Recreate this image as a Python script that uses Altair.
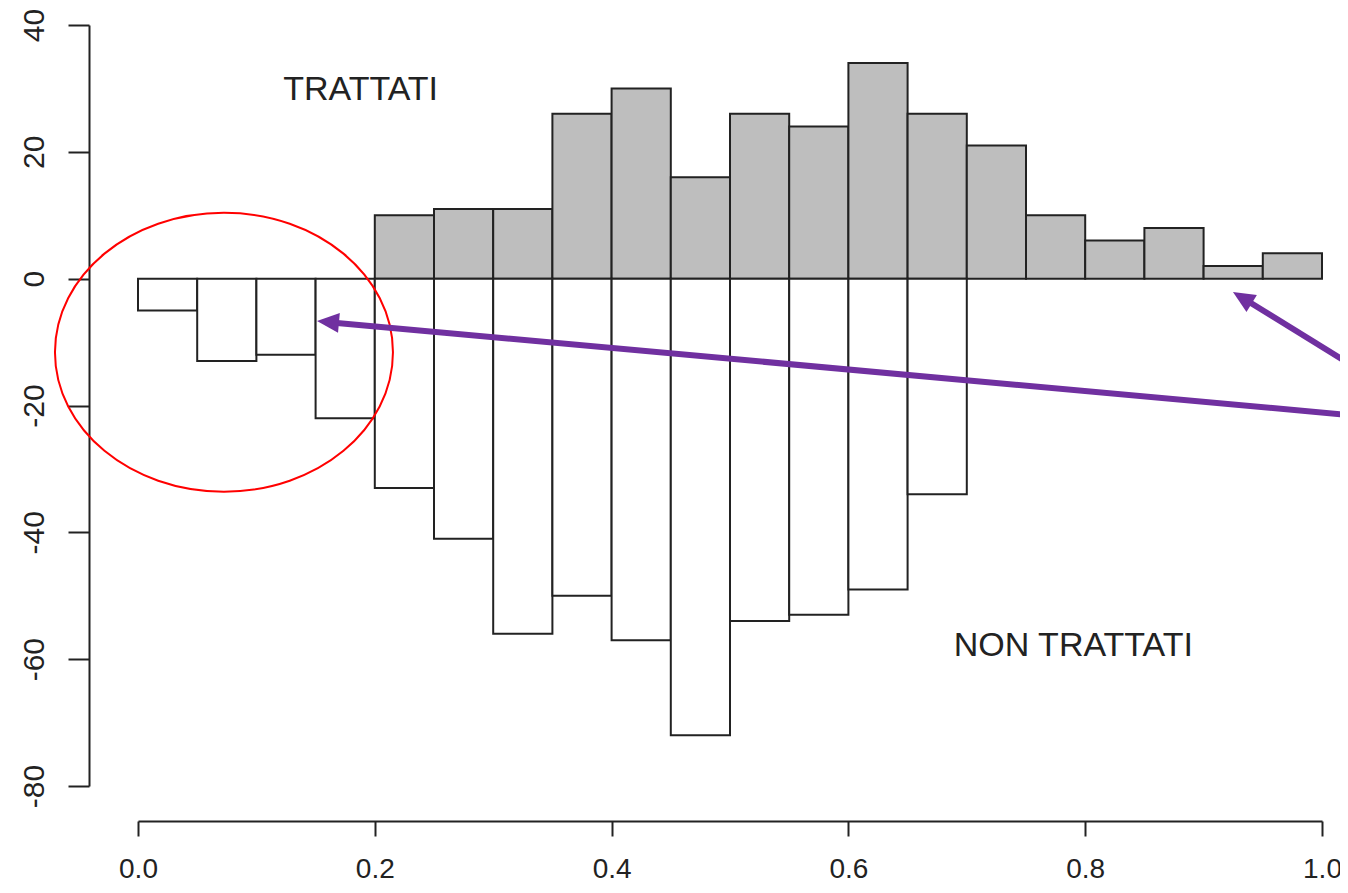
import altair as alt
import pandas as pd

# ---- data ----
bin_width = 0.05
treated_start = [0.20, 0.25, 0.30, 0.35, 0.40, 0.45, 0.50, 0.55, 0.60, 0.65, 0.70, 0.75, 0.80, 0.85, 0.90, 0.95]
treated_count = [10, 11, 11, 26, 30, 16, 26, 24, 34, 26, 21, 10, 6, 8, 2, 4]
untreated_start = [0.00, 0.05, 0.10, 0.15, 0.20, 0.25, 0.30, 0.35, 0.40, 0.45, 0.50, 0.55, 0.60, 0.65]
untreated_count = [-5, -13, -12, -22, -33, -41, -56, -50, -57, -72, -54, -53, -49, -34]

x_ticks = [0.0, 0.2, 0.4, 0.6, 0.8, 1.0]
y_ticks = [-80, -60, -40, -20, 0, 20, 40]

label_text = ["TRATTATI", "NON TRATTATI"]
label_x = [0.188, 0.790]
label_y = [29.8, -58.0]

ellipse_x = [0.0726]
ellipse_y = [-11.6]

arrow_tail_x = [1.032, 1.032]
arrow_tail_y = [-21.65, -14.46]
arrow_neck_x = [0.1681, 0.9392]
arrow_neck_y = [-6.99, -3.75]
arrow_tip_x = [0.1512, 0.9248]
arrow_tip_y = [-6.67, -2.10]
arrow_angle = [185.2, 211.7]

# ---- tables ----
treated = pd.DataFrame({
    "x": treated_start,
    "x2": [s + bin_width for s in treated_start],
    "y": [0] * len(treated_start),
    "y2": treated_count,
})
untreated = pd.DataFrame({
    "x": untreated_start,
    "x2": [s + bin_width for s in untreated_start],
    "y": [0] * len(untreated_start),
    "y2": untreated_count,
})
labels = pd.DataFrame({"x": label_x, "y": label_y, "t": label_text})
ellipse = pd.DataFrame({"x": ellipse_x, "y": ellipse_y})
shafts = pd.DataFrame({"x": arrow_tail_x, "y": arrow_tail_y, "x2": arrow_neck_x, "y2": arrow_neck_y})
heads = pd.DataFrame({"x": arrow_tip_x, "y": arrow_tip_y, "a": arrow_angle})

FONT = "Liberation Sans"
INK = "#222222"
PURPLE = "#7030A0"

xscale = alt.Scale(domain=[0, 1], nice=False, zero=False)
yscale = alt.Scale(domain=[-80, 40], nice=False, zero=False)

xaxis = alt.Axis(
    values=x_ticks, labelExpr="format(datum.value, '.1f')", title=None, grid=False,
    offset=35, tickSize=15, tickWidth=2, domainWidth=2, domainColor=INK, tickColor=INK,
    labelColor=INK, labelFont=FONT, labelFontSize=28, labelPadding=19, labelFlush=False,
    labelOverlap=False,
)
yaxis = alt.Axis(
    values=y_ticks, labelExpr="'' + datum.value", title=None, grid=False,
    offset=49, tickSize=21, tickWidth=2, domainWidth=2, domainColor=INK, tickColor=INK,
    labelColor=INK, labelFont=FONT, labelFontSize=30, labelPadding=25, labelAngle=270,
    labelAlign="center", labelBaseline="alphabetic", labelFlush=False, labelOverlap=False,
)

bars_t = alt.Chart(treated).mark_rect(fill="#BEBEBE", stroke=INK, strokeWidth=2).encode(
    x=alt.X("x:Q", scale=xscale, axis=xaxis), x2="x2:Q",
    y=alt.Y("y:Q", scale=yscale, axis=yaxis), y2="y2:Q",
)
bars_u = alt.Chart(untreated).mark_rect(fill="white", stroke=INK, strokeWidth=2).encode(
    x=alt.X("x:Q"), x2="x2:Q", y=alt.Y("y:Q"), y2="y2:Q",
)
texts = alt.Chart(labels).mark_text(
    font=FONT, fontSize=34, color=INK, align="center", baseline="middle"
).encode(x="x:Q", y="y:Q", text="t:N")

ell_path = ("M 1 0 C 1 0.4556 0.5523 0.8254 0 0.8254 C -0.5523 0.8254 -1 0.4556 -1 0 "
            "C -1 -0.4556 -0.5523 -0.8254 0 -0.8254 C 0.5523 -0.8254 1 -0.4556 1 0 Z")
ell = alt.Chart(ellipse).mark_point(
    shape=ell_path, size=338 * 338, filled=False, stroke="#FF0000", strokeWidth=2, opacity=1
).encode(x="x:Q", y="y:Q")

shaft = alt.Chart(shafts).mark_rule(color=PURPLE, strokeWidth=6, strokeCap="butt").encode(
    x="x:Q", y="y:Q", x2="x2:Q", y2="y2:Q"
)
head = alt.Chart(heads).mark_point(
    shape="M 0 0 L -2 -0.9 L -2 0.9 Z", size=484, filled=True, color=PURPLE, opacity=1
).encode(x="x:Q", y="y:Q", angle=alt.Angle("a:Q", scale=None))

chart = alt.layer(bars_t, bars_u, texts, ell, shaft, head).properties(
    width=1184, height=761,
    padding={"left": 130, "top": 17, "right": 18, "bottom": 99},
    autosize=alt.AutoSizeParams(type="none"),
).configure_view(stroke=None)

chart.save("out.html", embed_options={"renderer": "svg", "actions": False})
